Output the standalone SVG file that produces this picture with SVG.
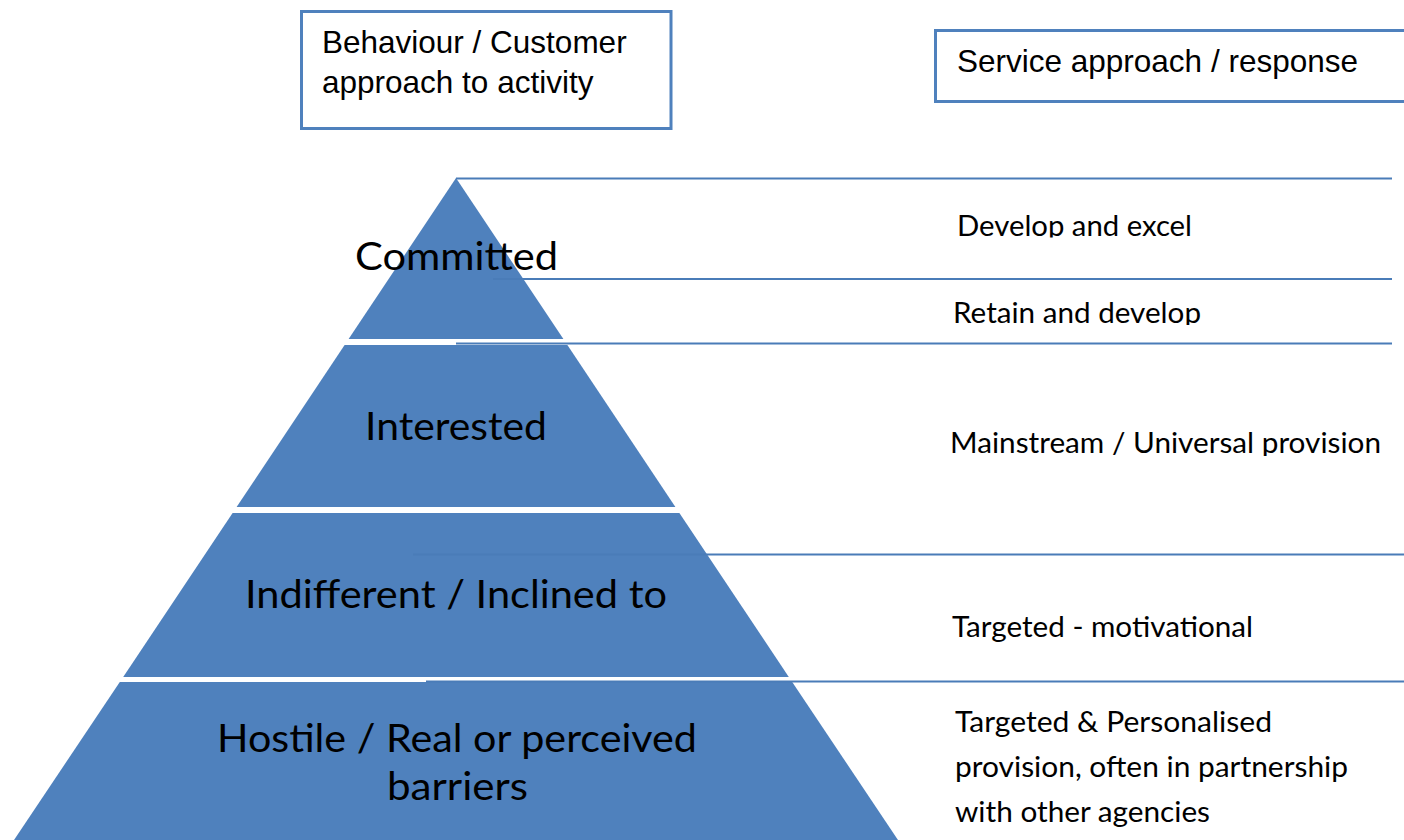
<svg xmlns="http://www.w3.org/2000/svg" width="1404" height="840" viewBox="0 0 1404 840">
  <style>
    .tier { fill: #4f81bd; stroke: none; }
    .tier-label { font-family: Lato, "Open Sans", sans-serif; font-size: 39px; fill: #000; text-anchor: middle; }
    .resp { font-family: Lato, "Open Sans", sans-serif; font-size: 28px; fill: #000; }
    .box { fill: #fff; stroke: #4f81bd; stroke-width: 3; }
    .box-text { font-family: "Liberation Sans", Arial, sans-serif; font-size: 31.5px; fill: #000; }
    .rule { stroke: #4a7cb8; stroke-width: 2; fill: none; }
  </style>
  <defs>
    <clipPath id="clipDevelop"><rect x="940" y="190" width="464" height="47.5"/></clipPath>
    <clipPath id="clipRetain"><rect x="940" y="285" width="464" height="40"/></clipPath>
    <clipPath id="clipMain"><rect x="940" y="400" width="464" height="56"/></clipPath>
  </defs>
  <rect width="1404" height="840" fill="#fff"/>

  <g id="box-behaviour">
    <rect class="box" x="301.5" y="11.5" width="369.5" height="117"/>
    <text class="box-text" x="322" y="53">Behaviour / Customer</text>
    <text class="box-text" x="322" y="93">approach to activity</text>
  </g>

  <g id="box-service">
    <rect class="box" x="935.5" y="30.5" width="500" height="71"/>
    <text class="box-text" x="957" y="72">Service approach / response</text>
  </g>

  <g id="tier-committed">
    <polygon class="tier" points="456,178 563.4,339 348.6,339"/>
    <text class="tier-label" x="456.5" y="270" textLength="203" lengthAdjust="spacingAndGlyphs">Committed</text>
  </g>

  <g id="tier-interested">
    <polygon class="tier" points="344.6,345 567.4,345 675.4,507 236.6,507"/>
    <text class="tier-label" x="456" y="440" textLength="182" lengthAdjust="spacingAndGlyphs">Interested</text>
  </g>

  <g id="tier-indifferent">
    <polygon class="tier" points="232.6,513 679.4,513 788.8,677 123.2,677"/>
    <text class="tier-label" x="456" y="608" textLength="422" lengthAdjust="spacingAndGlyphs">Indifferent / Inclined to</text>
  </g>

  <g id="tier-hostile">
    <polygon class="tier" points="119.8,682 792.2,682 902,846 10,846"/>
    <text class="tier-label" x="457" y="752" textLength="480" lengthAdjust="spacingAndGlyphs">Hostile / Real or perceived</text>
    <text class="tier-label" x="457.5" y="800" textLength="141" lengthAdjust="spacingAndGlyphs">barriers</text>
  </g>

  <g id="connectors">
    <line class="rule" x1="456" y1="178.5" x2="1392" y2="178.5"/>
    <line class="rule" x1="493" y1="279" x2="1392" y2="279"/>
    <line class="rule" x1="456" y1="343.5" x2="1392" y2="343.5"/>
    <line class="rule" x1="413" y1="554.5" x2="1404" y2="554.5"/>
    <line class="rule" x1="426" y1="681.5" x2="1404" y2="681.5"/>
  </g>

  <g id="resp-develop-excel" clip-path="url(#clipDevelop)">
    <text class="resp" x="957" y="236" textLength="235" lengthAdjust="spacingAndGlyphs">Develop and excel</text>
  </g>
  <g id="resp-retain-develop" clip-path="url(#clipRetain)">
    <text class="resp" x="953" y="323" textLength="248" lengthAdjust="spacingAndGlyphs">Retain and develop</text>
  </g>
  <g id="resp-mainstream" clip-path="url(#clipMain)">
    <text class="resp" x="950" y="453" textLength="431" lengthAdjust="spacingAndGlyphs">Mainstream / Universal provision</text>
  </g>
  <g id="resp-targeted-motivational">
    <text class="resp" x="952" y="637" textLength="301" lengthAdjust="spacingAndGlyphs">Targeted - motivational</text>
  </g>
  <g id="resp-targeted-personalised">
    <text class="resp" x="955" y="732" textLength="317" lengthAdjust="spacingAndGlyphs">Targeted &amp; Personalised</text>
    <text class="resp" x="955" y="777" textLength="393" lengthAdjust="spacingAndGlyphs">provision, often in partnership</text>
    <text class="resp" x="955" y="822" textLength="255" lengthAdjust="spacingAndGlyphs">with other agencies</text>
  </g>
</svg>
